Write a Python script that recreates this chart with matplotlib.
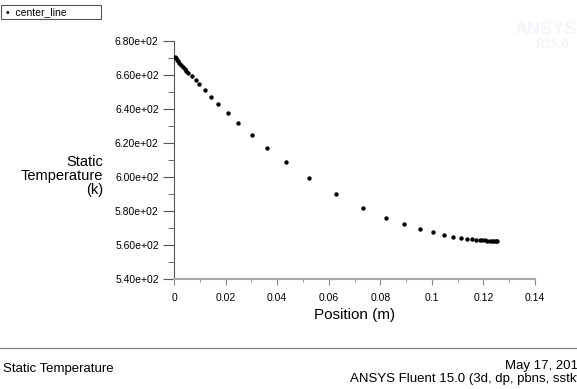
import matplotlib.pyplot as plt
import numpy as np

plt.rcParams['font.family'] = ['Liberation Sans', 'DejaVu Sans']

# center_line data: position (m) vs static temperature (k)
position = [0.0002, 0.0006, 0.0010, 0.0015, 0.0021, 0.0027, 0.0034, 0.0041, 0.0048, 0.0055,
            0.0069, 0.0084, 0.0098, 0.0119, 0.0144, 0.0172, 0.0208, 0.0250, 0.0302,
            0.0362, 0.0435, 0.0522, 0.0629, 0.0734, 0.0821, 0.0893, 0.0954, 0.1003,
            0.1046, 0.1082, 0.1112, 0.1137, 0.1156, 0.1172, 0.1185, 0.1196, 0.1206,
            0.1215, 0.1224, 0.1232, 0.1240, 0.1247, 0.1253]
temperature = [670.6, 669.9, 669.1, 668.1, 667.0, 665.9, 664.7, 663.5, 662.4, 661.4,
               659.6, 657.1, 654.5, 651.0, 647.2, 642.9, 637.8, 631.6, 624.9,
               616.9, 608.6, 599.4, 590.0, 581.8, 575.9, 572.1, 569.2, 567.5,
               565.9, 564.9, 564.3, 563.7, 563.4, 563.1, 562.9, 562.8, 562.7,
               562.6, 562.5, 562.5, 562.4, 562.4, 562.4]

y_ticks = [540, 560, 580, 600, 620, 640, 660, 680]
x_ticks = [0, 0.02, 0.04, 0.06, 0.08, 0.1, 0.12, 0.14]
x_labels = ['0', '0.02', '0.04', '0.06', '0.08', '0.1', '0.12', '0.14']

fig = plt.figure(figsize=(5.77, 3.89), dpi=100)
ax = fig.add_axes([174 / 577, 1 - 279 / 389, (535 - 174) / 577, (279 - 41) / 389])

ax.scatter(position, temperature, s=10, color='black', marker='o', linewidths=0, zorder=3)

ax.set_xlim(0, 0.14)
ax.set_ylim(540, 680)
ax.set_yticks(y_ticks)
ax.set_yticklabels(['{:.2e}'.format(v) for v in y_ticks])
ax.set_yticks(np.arange(550, 680, 20), minor=True)
ax.set_xticks(x_ticks)
ax.set_xticklabels(x_labels)
ax.set_xticks(np.arange(0.01, 0.14, 0.02), minor=True)

for s in ['top', 'right']:
    ax.spines[s].set_visible(False)
ax.spines['left'].set_color('#555555')
ax.spines['bottom'].set_color('#aaaaaa')
ax.spines['bottom'].set_linewidth(1.5)
ax.tick_params(axis='y', which='major', length=8, color='#555555', labelsize=7.5, pad=3)
ax.tick_params(axis='y', which='minor', length=4, color='#555555')
ax.tick_params(axis='x', which='major', length=4, color='#888888', labelsize=7.5, pad=6)
ax.tick_params(axis='x', which='minor', length=2, color='#888888')

ax.set_xlabel('Position (m)', fontsize=11, labelpad=4)
fig.text(103 / 577, 1 - 176 / 389, 'Static\nTemperature\n(k)', ha='right', va='center',
         fontsize=10.5, linespacing=1.0)

# legend box
fig.patches.append(plt.Rectangle((0.001, 1 - 19 / 389), 100 / 577, 14 / 389,
                                 transform=fig.transFigure, fill=False,
                                 edgecolor='#555555', linewidth=0.8))
fig.text(6 / 577, 1 - 12 / 389, '•  center_line', ha='left', va='center', fontsize=7.5)

# watermark
fig.text(1.0, 1 - 30 / 389, 'ANSYS', ha='right', va='center', fontsize=13,
         fontweight='bold', color='#f2f5f9')
fig.text(0.985, 1 - 45 / 389, 'R15.0', ha='right', va='center', fontsize=9,
         fontweight='bold', color='#f2f5f9')

# footer
fig.add_artist(plt.Line2D([0, 1], [1 - 348 / 389] * 2, color='#777777', linewidth=0.8))
fig.text(3 / 577, 1 - 369 / 389, 'Static Temperature', ha='left', va='center', fontsize=9.5)
fig.text(1.014, 1 - 366 / 389, 'May 17, 2015', ha='right', va='center', fontsize=9.5)
fig.text(1.024, 1 - 379 / 389, 'ANSYS Fluent 15.0 (3d, dp, pbns, sstkw)', ha='right',
         va='center', fontsize=9.5)

fig.savefig('out.png', dpi=100)
